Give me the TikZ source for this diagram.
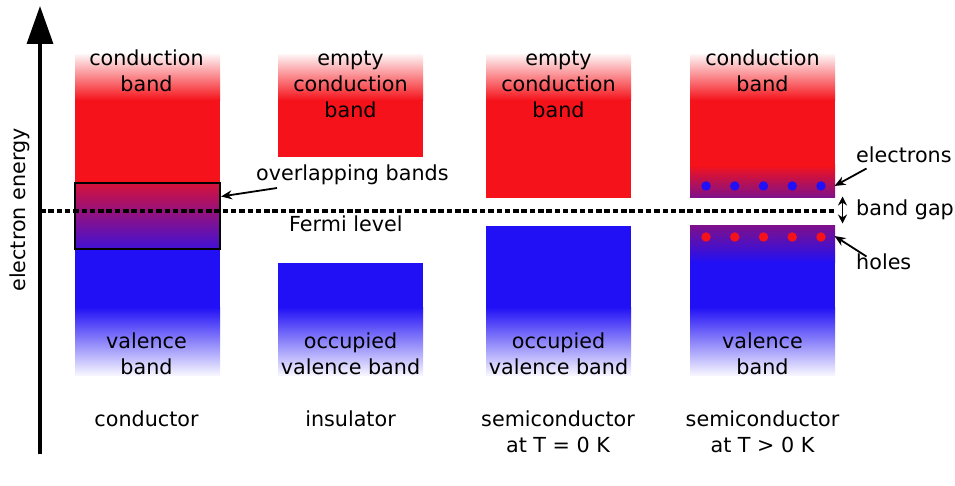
\documentclass[tikz,border=0pt]{standalone}
\usepackage{fontspec}
\setmainfont{DejaVu Sans}
\usetikzlibrary{arrows.meta,calc}
\definecolor{bandred}{RGB}{245,18,26}
\definecolor{bandblue}{RGB}{33,16,245}
\definecolor{bandpurple}{RGB}{125,16,140}
\begin{document}
\begin{tikzpicture}[x=1pt,y=-1pt,
  lbl/.style={font=\fontsize{20.7}{26}\selectfont, align=center, anchor=base, inner sep=0pt},
  lblw/.style={font=\fontsize{20.7}{26}\selectfont, anchor=base west, inner sep=0pt},
  ptr/.style={line width=1.8pt, -{Stealth[length=11pt,width=9pt]}},
  dptr/.style={line width=1.8pt, {Stealth[length=9pt,width=9pt]}-{Stealth[length=9pt,width=9pt]}},
  axisarrow/.style={line width=3.4pt, -{Triangle[length=38pt,width=26pt]}},
  fermiline/.style={line width=3.4pt, dash pattern=on 5.5pt off 2.8pt},
  fadered/.style={top color=bandred!6, bottom color=bandred},
  fadeblue/.style={top color=bandblue, bottom color=bandblue!4},
  overlapbox/.style={draw=black, line width=1.5pt, top color=bandred!85!bandblue, bottom color=bandblue!85!bandred,
    minimum width=145pt, minimum height=66pt, inner sep=0pt},
  edot/.style={circle, fill=bandblue, minimum size=9.5pt, inner sep=0pt},
  hdot/.style={circle, fill=bandred, minimum size=9.5pt, inner sep=0pt}]
\useasboundingbox (0,0) rectangle (955,486);

% ---------- conductor ----------
\shade[fadered] (75,55) rectangle (220,100.5);
\fill[bandred] (75,100) rectangle (220,184);
\fill[bandblue] (75,248) rectangle (220,307.5);
\shade[fadeblue] (75,307) rectangle (220,375);
\node[overlapbox] (overlap) at (147.5,216) {};

% ---------- insulator ----------
\shade[fadered] (278,55) rectangle (423,100.5);
\fill[bandred] (278,100) rectangle (423,157);
\fill[bandblue] (278,263) rectangle (423,307.5);
\shade[fadeblue] (278,307) rectangle (423,375);

% ---------- semiconductor T = 0 ----------
\shade[fadered] (486,55) rectangle (631,100.5);
\fill[bandred] (486,100) rectangle (631,198);
\fill[bandblue] (486,226) rectangle (631,307.5);
\shade[fadeblue] (486,307) rectangle (631,375);

% ---------- semiconductor T > 0 ----------
\shade[fadered] (690,55) rectangle (835,100.5);
\fill[bandred] (690,100) rectangle (835,165.5);
\shade[top color=bandred, bottom color=bandpurple] (690,165) rectangle (835,198);
\shade[top color=bandpurple, bottom color=bandblue] (690,226) rectangle (835,262.5);
\fill[bandblue] (690,262) rectangle (835,307.5);
\shade[fadeblue] (690,307) rectangle (835,375);

\foreach \i/\x in {1/706,2/734.75,3/763.5,4/792.25,5/821}{
  \node[edot] (e\i) at (\x,186) {};
  \node[hdot] (h\i) at (\x,237) {};
}

% ---------- axis ----------
\coordinate (axisbot) at (40,454);
\coordinate (axistop) at (40,6);
\draw[axisarrow] (axisbot) -- (axistop);
\node[font=\fontsize{20.7}{26}\selectfont, rotate=90, anchor=base, inner sep=0pt] (energy) at (25,210) {electron energy};

% ---------- Fermi level ----------
\coordinate (fermiL) at (40,211);
\coordinate (fermiR) at (835,211);
\draw[fermiline] (fermiL) -- (fermiR);

% ---------- band labels (base = last line) ----------
\node[lbl] (cb1) at (146.5,92) {conduction\\band};
\node[lbl] (cb2) at (350.5,118) {empty\\conduction\\band};
\node[lbl] (cb3) at (558.5,118) {empty\\conduction\\band};
\node[lbl] (cb4) at (762.5,92) {conduction\\band};
\node[lbl] (vb1) at (146.5,374) {valence\\band};
\node[lbl] (vb2) at (350.5,374) {occupied\\valence band};
\node[lbl] (vb3) at (558.5,374) {occupied\\valence band};
\node[lbl] (vb4) at (762.5,374) {valence\\band};

% ---------- column labels ----------
\node[lbl] (c1) at (146.5,426) {conductor};
\node[lbl] (c2) at (350.5,426) {insulator};
\node[lbl] (c3) at (558,452.5) {semiconductor\\at T = 0 K};
\node[lbl] (c4) at (762.5,452.5) {semiconductor\\at T > 0 K};

% ---------- annotations ----------
\node[lblw] (ovl) at (256,180.7) {overlapping bands};
\node[lblw] (fermi) at (289,231.5) {Fermi level};
\node[lblw] (elec) at (856,162.7) {electrons};
\node[lblw] (gap) at (856,216) {band gap};
\node[lblw] (holes) at (856,269.3) {holes};

\coordinate (ovlS) at (277,188);
\coordinate (ovlT) at (221,196.5);
\draw[ptr] (ovlS) -- (ovlT);
\coordinate (elecS) at (866.5,168.5);
\coordinate (elecT) at (834.5,186);
\draw[ptr] (elecS) -- (elecT);
\coordinate (holeS) at (866.5,256.5);
\coordinate (holeT) at (834.5,236);
\draw[ptr] (holeS) -- (holeT);
\coordinate (gapT) at (842.5,196.5);
\coordinate (gapB) at (842.5,223.5);
\draw[dptr] (gapT) -- (gapB);
\end{tikzpicture}
\end{document}
